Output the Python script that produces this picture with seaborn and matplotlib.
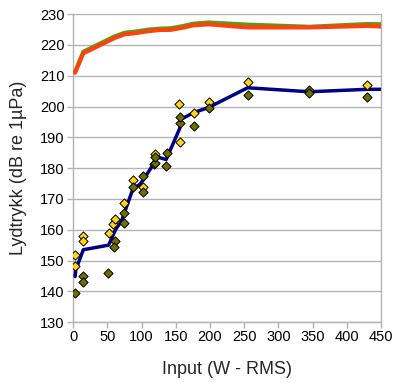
import matplotlib
matplotlib.use("Agg")
import matplotlib.pyplot as plt
import seaborn as sns
import pandas as pd

# Blue line (average)
blue_x = [3, 4, 15, 52, 62, 71, 88, 97, 103, 118, 120, 136, 156, 157, 176, 198, 255, 345, 430, 450]
blue_y = [144.8, 147.0, 153.5, 155.0, 160.0, 163.0, 173.6, 174.6, 176.3, 181.5, 183.8, 182.8, 193.0, 195.8, 198.0, 199.7, 206.1, 204.8, 205.6, 205.6]

# Orange and green lines
top_x = [3, 15, 62, 66, 76, 86, 96, 110, 128, 142, 160, 176, 198, 255, 345, 430, 450]
orange_y = [211.0, 217.3, 222.4, 222.7, 223.5, 223.7, 224.0, 224.5, 224.9, 224.9, 225.6, 226.4, 226.7, 225.7, 225.7, 226.2, 226.0]
green_y = [211.3, 217.8, 222.9, 223.2, 224.0, 224.2, 224.5, 225.0, 225.3, 225.4, 226.1, 226.9, 227.3, 226.6, 225.9, 226.8, 226.7]

# Yellow diamonds
yel_x = [3, 3, 15, 15, 52, 59, 61, 74, 87, 102, 120, 156, 155, 176, 198, 255, 430]
yel_y = [151.8, 148.2, 158.0, 156.4, 159.0, 162.0, 163.5, 168.7, 176.0, 173.9, 184.6, 188.6, 200.7, 198.0, 201.5, 208.1, 207.1]

# Olive diamonds
olv_x = [3, 15, 15, 51, 61.6, 60.5, 75, 75, 88, 101.6, 102, 118, 119, 120, 136, 137.4, 156, 156, 176, 198, 255, 345, 345, 430]
olv_y = [139.4, 145.0, 143.0, 146.0, 156.2, 154.5, 162.2, 165.4, 173.8, 177.3, 172.2, 181.5, 181.7, 183.5, 180.6, 185.0, 194.5, 196.7, 193.6, 199.5, 203.6, 205.3, 204.5, 203.2]

sns.set_theme(style="white")
plt.rcParams['font.family'] = ['Liberation Sans', 'DejaVu Sans']

fig = plt.figure(figsize=(3.97, 3.83), dpi=100)
ax = fig.add_axes([0.184, 0.159, 0.776, 0.804])

grid_c = "#b3b3b3"

sns.lineplot(x=top_x, y=green_y, ax=ax, color="#579D1C", lw=3, sort=False, estimator=None, zorder=3)
sns.lineplot(x=top_x, y=orange_y, ax=ax, color="#FF420E", lw=3, sort=False, estimator=None, zorder=4)
sns.lineplot(x=blue_x, y=blue_y, ax=ax, color="#000080", lw=2.5, sort=False, estimator=None, zorder=3)
sns.scatterplot(x=yel_x, y=yel_y, ax=ax, marker="D", s=22, color="#FFD320", edgecolor="black", linewidth=0.7, zorder=5)
sns.scatterplot(x=olv_x, y=olv_y, ax=ax, marker="D", s=22, color="#6E6E00", edgecolor="black", linewidth=0.7, zorder=5)

ax.set_xlim(0, 450)
ax.set_ylim(130, 230)
ax.set_xticks(range(0, 451, 50))
ax.set_yticks(range(130, 231, 10))
ax.grid(axis="y", color=grid_c, lw=1)
ax.set_axisbelow(True)
for s in ["left", "bottom", "right"]:
    ax.spines[s].set_visible(True)
    ax.spines[s].set_color(grid_c)
    ax.spines[s].set_linewidth(1)
ax.spines["top"].set_visible(False)
ax.tick_params(axis="both", direction="out", length=4, width=1, color=grid_c, labelsize=10.5, pad=2, labelcolor="black")
ax.tick_params(axis="x", bottom=True)
ax.tick_params(axis="y", left=True)
ax.set_xlabel("Input (W - RMS)", fontsize=13)
ax.set_ylabel("Lydtrykk (dB re 1µPa)", fontsize=13)
ax.xaxis.set_label_coords(0.5, -0.125)
ax.yaxis.set_label_coords(-0.15, 0.5)

fig.savefig("out.png", dpi=100)
